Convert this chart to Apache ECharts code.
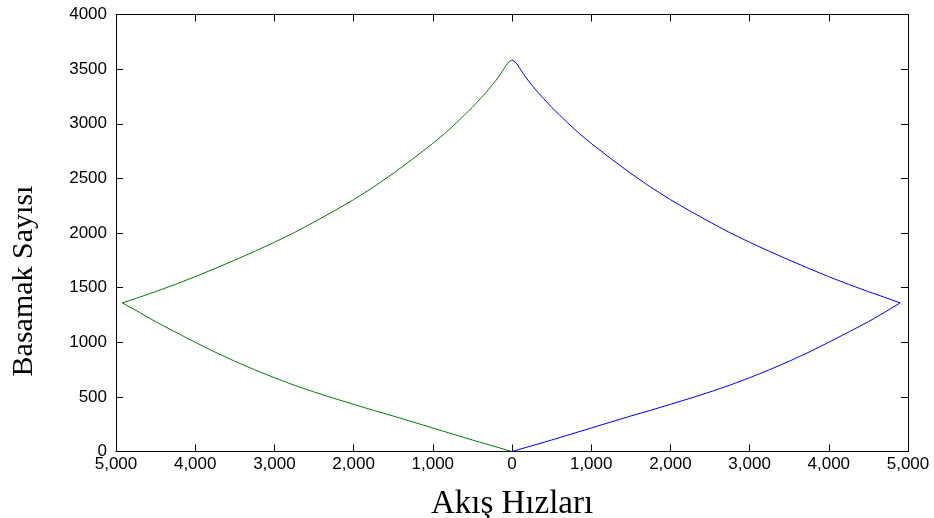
<!DOCTYPE html>
<html>
<head>
<meta charset="utf-8">
<script src="https://cdn.jsdelivr.net/npm/echarts@6/dist/echarts.min.js"></script>
<style>html,body{margin:0;padding:0;background:#fff;}#c{width:934px;height:518px;}</style>
</head>
<body>
<div id="c"></div>
<script>
// Green branch (left side): lower part from 0 to tip, then upper part back to peak
const greenX = [0, -500, -1000, -1500, -1750, -2000, -2250, -2500, -2750, -3000, -3250, -3500, -3750, -4000, -4250, -4500, -4700, -4920,
                -4700, -4500, -4250, -4000, -3750, -3500, -3250, -3000, -2750, -2500, -2250, -2000, -1750, -1500, -1250, -1000, -850, -700, -600, -500, -400, -300, -200, -150, -100, -50, 0];
const greenY = [0, 105, 215, 325, 377, 432, 487, 545, 607, 675, 748, 826, 910, 1000, 1093, 1188, 1272, 1360,
                1413, 1463, 1530, 1600, 1675, 1752, 1832, 1915, 2003, 2100, 2200, 2305, 2420, 2545, 2680, 2820, 2910, 3010, 3080, 3150, 3230, 3310, 3400, 3450, 3505, 3560, 3585];
// Blue branch (right side)
const blueX = [0, 500, 1000, 1500, 1750, 2000, 2250, 2500, 2750, 3000, 3250, 3500, 3750, 4000, 4250, 4500, 4700, 4900,
               4700, 4500, 4250, 4000, 3750, 3500, 3250, 3000, 2750, 2500, 2250, 2000, 1750, 1500, 1250, 1000, 850, 700, 600, 500, 400, 300, 200, 150, 100, 50, 0];
const blueY = [0, 105, 215, 325, 377, 432, 487, 545, 607, 675, 748, 826, 910, 1000, 1093, 1188, 1272, 1360,
               1413, 1463, 1530, 1600, 1675, 1752, 1832, 1915, 2003, 2100, 2200, 2305, 2420, 2545, 2680, 2820, 2910, 3010, 3080, 3150, 3230, 3310, 3400, 3450, 3505, 3560, 3585];
const xTickValues = [-5000, -4000, -3000, -2000, -1000, 0, 1000, 2000, 3000, 4000, 5000];
const yTickValues = [0, 500, 1000, 1500, 2000, 2500, 3000, 3500, 4000];
const xTitle = 'Akış Hızları';
const yTitle = 'Basamak Sayısı';

const zip = (xs, ys) => xs.map((x, i) => [x, ys[i]]);
const chart = echarts.init(document.getElementById('c'), null, {renderer: 'canvas'});
const lbl = {color: '#000', fontFamily: 'Liberation Sans, Arial, sans-serif', fontSize: 17};
const axLine = {show: true, onZero: false, lineStyle: {color: '#000', width: 1}};
const tick = {show: true, inside: true, length: 7, lineStyle: {color: '#000', width: 1}};
chart.setOption({
  animation: false,
  backgroundColor: '#fff',
  grid: {left: 116, right: 26, top: 14.5, bottom: 66.5, containLabel: false, outerBoundsMode: 'none'},
  graphic: [{
    type: 'text', x: 24, y: 281, rotation: Math.PI / 2,
    style: {text: yTitle, fill: '#000', font: '30px "Liberation Serif", "Times New Roman", serif',
            align: 'center', verticalAlign: 'middle', textAlign: 'center', textVerticalAlign: 'middle'}
  }],
  xAxis: [{
    type: 'value', min: xTickValues[0], max: xTickValues[xTickValues.length - 1], interval: 1000,
    position: 'bottom', axisLine: axLine, axisTick: tick, splitLine: {show: false},
    axisLabel: Object.assign({}, lbl, {margin: 4, formatter: v => Math.abs(v).toLocaleString('en-US')}),
    name: xTitle, nameLocation: 'middle', nameGap: 36,
    nameTextStyle: {color: '#000', fontFamily: 'Liberation Serif, Times New Roman, serif', fontSize: 33}
  }, {
    type: 'value', min: -5000, max: 5000, interval: 1000, position: 'top',
    axisLine: axLine, axisTick: tick, axisLabel: {show: false}, splitLine: {show: false}
  }],
  yAxis: [{
    type: 'value', min: yTickValues[0], max: yTickValues[yTickValues.length - 1], interval: 500,
    position: 'left', axisLine: axLine, axisTick: tick, splitLine: {show: false},
    axisLabel: Object.assign({}, lbl, {margin: 9, formatter: v => String(v)})
  }, {
    type: 'value', min: 0, max: 4000, interval: 500, position: 'right',
    axisLine: axLine, axisTick: tick, axisLabel: {show: false}, splitLine: {show: false}
  }],
  series: [{
    type: 'line', data: zip(greenX, greenY), showSymbol: false, symbol: 'none',
    lineStyle: {color: '#008000', width: 1}, xAxisIndex: 0, yAxisIndex: 0
  }, {
    type: 'line', data: zip(blueX, blueY), showSymbol: false, symbol: 'none',
    lineStyle: {color: '#0000ff', width: 1}, xAxisIndex: 0, yAxisIndex: 0
  }]
});
</script>
</body>
</html>
